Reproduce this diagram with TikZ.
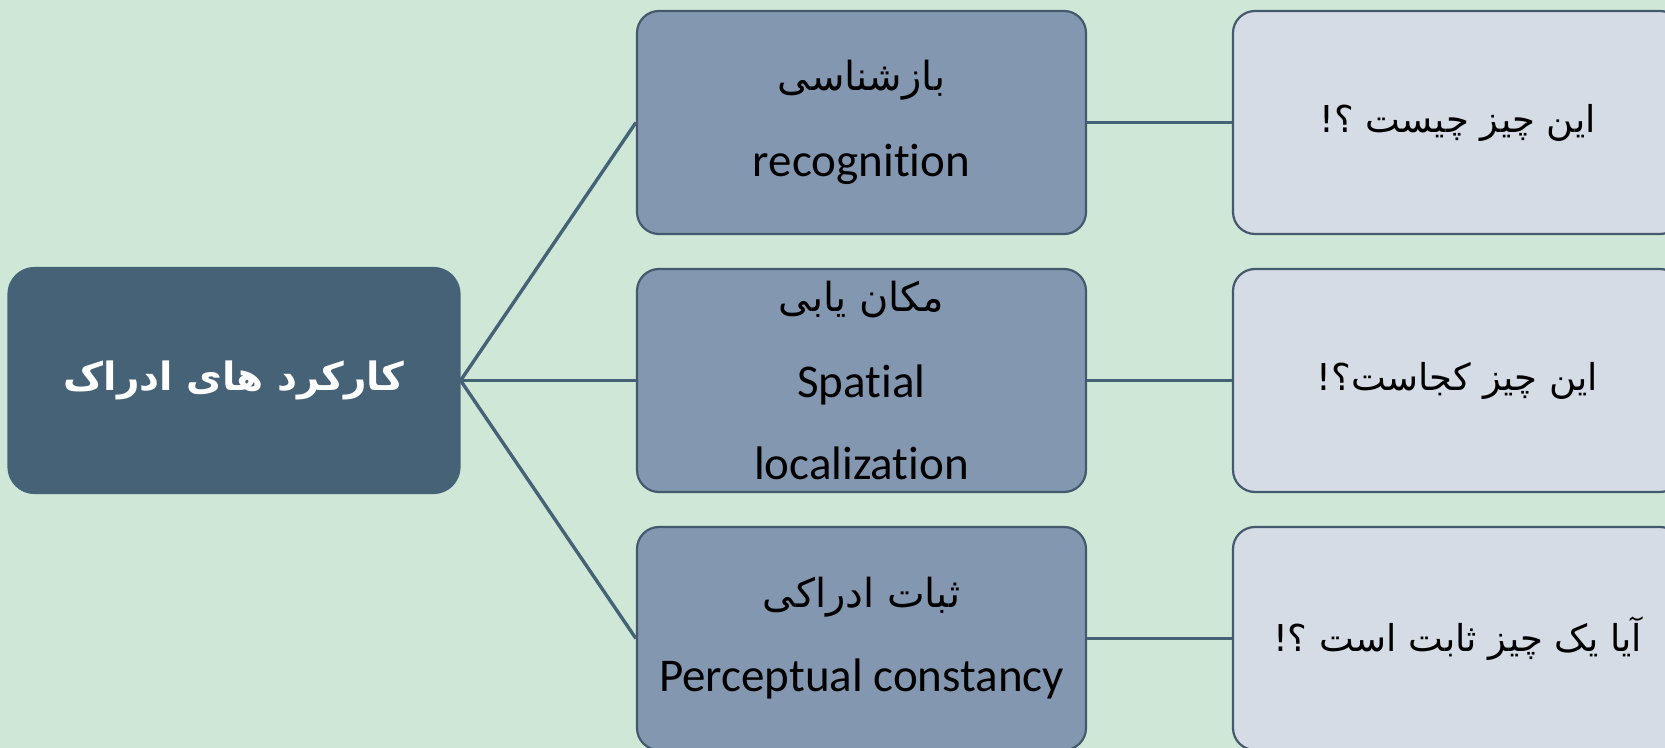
\documentclass[tikz,border=0pt]{standalone}
\usepackage{fontspec}
\setmainfont{Carlito}[Ligatures=NoCommon]
\newfontfamily\arabicfont[Script=Arabic]{DejaVu Sans}
\TeXXeTstate=1
\definecolor{bgc}{HTML}{CFE7D6}
\definecolor{rootc}{HTML}{466277}
\definecolor{midc}{HTML}{8497B0}
\definecolor{rightc}{HTML}{D6DCE5}
\definecolor{edgec}{HTML}{44596E}
\tikzset{
  basebox/.style={rounded corners=11pt, draw=edgec, line width=1.1pt, inner sep=0pt, align=center},
  rootbox/.style={basebox, rounded corners=13pt, draw=rootc, fill=rootc, minimum width=225.5pt, minimum height=112.5pt, text=white},
  midbox/.style={basebox, fill=midc, minimum width=224.5pt, minimum height=111.5pt, font=\fontsize{23.5}{41}\selectfont},
  rightbox/.style={basebox, fill=rightc, minimum width=224.5pt, minimum height=111.5pt, font=\fontsize{23.5}{41}\selectfont},
  conn/.style={draw=rootc, line width=1.7pt}
}
\newcommand{\fa}[1]{{\arabicfont\fontsize{20}{41}\selectfont\beginR #1\endR}}
\newcommand{\faq}[1]{{\arabicfont\fontsize{18.5}{41}\selectfont\beginR #1\endR}}
\begin{document}
\begin{tikzpicture}[x=0.5pt,y=-0.5pt]
\useasboundingbox (0,0) rectangle (1665,748);
\clip (0,0) rectangle (1665,748);
\fill[bgc] (0,0) rectangle (1665,748);
\node[rootbox] (root) at (234,380.5) {{\arabicfont\bfseries\fontsize{19.5}{30}\selectfont\beginR کارکرد های ادراک\endR}};
\node[midbox] (m1) at (861.5,122.5) {\fa{بازشناسی}\\[2pt]recognition};
\node[midbox] (m2) at (861.5,380.5) {\fa{مکان یابی}\\[2pt]Spatial\\localization};
\node[midbox] (m3) at (861.5,638.5) {\fa{ثبات ادراکی}\\[1pt]Perceptual constancy};
\node[rightbox] (r1) at (1457.5,122.5) {\faq{این چیز چیست ؟!}};
\node[rightbox] (r2) at (1457.5,380.5) {\faq{این چیز کجاست؟!}};
\node[rightbox] (r3) at (1457.5,638.5) {\faq{آیا یک چیز ثابت است ؟!}};
\draw[conn] (root.east) -- (m1.west);
\draw[conn] (root.east) -- (m2.west);
\draw[conn] (root.east) -- (m3.west);
\draw[conn] (m1.east) -- (r1.west);
\draw[conn] (m2.east) -- (r2.west);
\draw[conn] (m3.east) -- (r3.west);
\end{tikzpicture}
\end{document}
